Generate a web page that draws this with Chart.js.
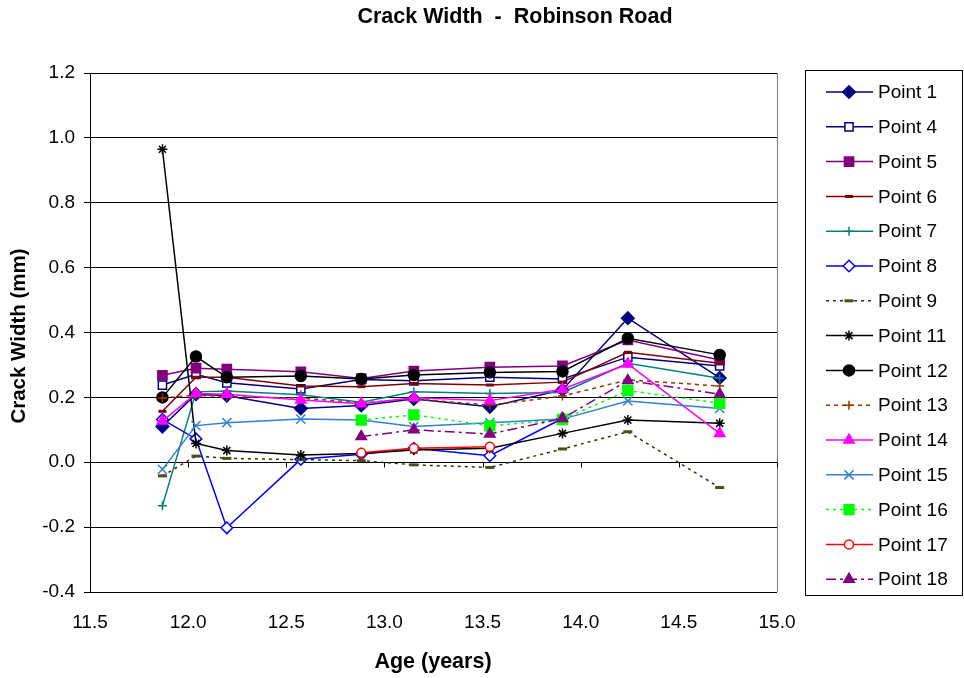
<!DOCTYPE html>
<html>
<head>
<meta charset="utf-8">
<script src="https://cdn.jsdelivr.net/npm/chart.js@4/dist/chart.umd.min.js"></script>
<style>
  html, body { margin: 0; padding: 0; background: #fff; }
  #wrap { width: 964px; height: 678px; }
</style>
</head>
<body>
<div id="wrap"><canvas id="crackChart" width="964" height="678"></canvas></div>
<script>
// ---- data ----
const ages = [11.869, 12.04, 12.197, 12.574, 12.882, 13.15, 13.537, 13.907, 14.24, 14.708];

const seriesNames = ['Point 1', 'Point 4', 'Point 5', 'Point 6', 'Point 7', 'Point 8', 'Point 9', 'Point 11',
  'Point 12', 'Point 13', 'Point 14', 'Point 15', 'Point 16', 'Point 17', 'Point 18'];

const point1  = [0.110, 0.210, 0.205, 0.166, 0.175, 0.195, 0.171, 0.223, 0.444, 0.260];
const point4  = [0.238, 0.271, 0.245, 0.226, 0.255, 0.251, 0.262, 0.257, 0.324, 0.297];
const point5  = [0.268, 0.290, 0.287, 0.279, 0.258, 0.281, 0.293, 0.297, 0.377, 0.315];
const point6  = [0.157, 0.262, 0.262, 0.235, 0.233, 0.243, 0.238, 0.247, 0.339, 0.305];
const point7  = [-0.134, 0.217, 0.220, 0.208, 0.185, 0.217, 0.212, 0.215, 0.305, 0.259];
const point8  = [0.132, 0.072, -0.202, 0.009, 0.025, 0.043, 0.020, 0.135, null, null];
const point9  = [-0.042, 0.019, 0.012, 0.008, 0.005, -0.008, -0.016, 0.041, 0.094, -0.078];
const point11 = [0.965, 0.058, 0.036, 0.022, 0.027, 0.038, 0.043, 0.089, 0.130, 0.120];
const point12 = [0.200, 0.326, 0.262, 0.266, 0.257, 0.269, 0.277, 0.280, 0.382, 0.331];
const point13 = [0.198, 0.207, 0.202, 0.198, 0.183, 0.195, 0.176, 0.204, 0.254, 0.235];
const point14 = [0.127, 0.212, 0.210, 0.192, 0.180, 0.199, 0.190, 0.225, 0.303, 0.089];
const point15 = [-0.022, 0.113, 0.122, 0.133, 0.130, 0.110, 0.122, 0.133, 0.189, 0.166];
const point16 = [null, null, null, null, 0.130, 0.146, 0.112, 0.132, 0.221, 0.182];
const point17 = [null, null, null, null, 0.029, 0.043, 0.048, null, null, null];
const point18 = [null, null, null, null, 0.079, 0.100, 0.087, 0.135, 0.252, 0.210];

const xTicks = [11.5, 12.0, 12.5, 13.0, 13.5, 14.0, 14.5, 15.0];
const yTicks = [-0.4, -0.2, 0.0, 0.2, 0.4, 0.6, 0.8, 1.0, 1.2];

const seriesValues = [point1, point4, point5, point6, point7, point8, point9, point11,
  point12, point13, point14, point15, point16, point17, point18];

// ---- styling (Excel-ish defaults) ----
const styles = [
  { c: '#000080', m: 'rectRot', r: 6.3, fill: true },
  { c: '#000080', m: 'rect', r: 5.8, fill: false },
  { c: '#800080', m: 'rect', r: 6.5, fill: true },
  { c: '#800000', m: 'line', r: 4, fill: true, mw: 3 },
  { c: '#008080', m: 'cross', r: 4.5, fill: false },
  { c: '#0000FF', m: 'rectRot', r: 5.8, fill: false },
  { c: '#333300', m: 'line', r: 4.5, fill: true, mw: 3, dash: [3, 4], mc: '#4d4d1a' },
  { c: '#000000', m: 'star', r: 5, fill: false },
  { c: '#000000', m: 'circle', r: 5.5, fill: true },
  { c: '#993300', m: 'cross', r: 4.5, fill: false, dash: [4, 4] },
  { c: '#FF00FF', m: 'triangle', r: 6, fill: true },
  { c: '#3380D0', m: 'crossRot', r: 6.5, fill: false },
  { c: '#00FF00', m: 'rect', r: 7, fill: true, dash: [3, 4] },
  { c: '#FF0000', m: 'circle', r: 4.5, fill: false },
  { c: '#800080', m: 'triangle', r: 6, fill: true, dash: [10, 4, 3, 4] }
];

const FONT = 'Arial, "Liberation Sans", sans-serif';

const datasets = seriesNames.map((name, i) => {
  const s = styles[i];
  const mc = s.mc || s.c;
  return {
    label: name,
    data: ages.map((a, k) => ({ x: a, y: seriesValues[i][k] })),
    borderColor: s.c,
    borderWidth: 1.5,
    borderDash: s.dash || [],
    pointStyle: s.m,
    pointRadius: s.r,
    pointBorderWidth: s.mw || 1.5,
    pointBorderColor: mc,
    pointBackgroundColor: s.fill ? mc : '#ffffff',
    tension: 0,
    fill: false,
    order: seriesNames.length - i
  };
});

// 标题、图例、边框都画在同一块 canvas 上
const decorPlugin = {
  id: 'decor',
  afterDraw(chart) {
    const ctx = chart.ctx;
    const area = chart.chartArea;
    const xs = chart.scales.x, ys = chart.scales.y;
    ctx.save();

    // plot area right border
    ctx.strokeStyle = '#808080';
    ctx.lineWidth = 1;
    ctx.beginPath();
    ctx.moveTo(Math.round(area.right) + 0.5, area.top);
    ctx.lineTo(Math.round(area.right) + 0.5, area.bottom);
    ctx.stroke();

    // x axis ticks at y = 0
    const y0 = Math.round(ys.getPixelForValue(0)) + 0.5;
    ctx.strokeStyle = '#000';
    ctx.beginPath();
    xTicks.forEach(t => {
      const px = Math.round(xs.getPixelForValue(t)) + 0.5;
      ctx.moveTo(px, y0);
      ctx.lineTo(px, y0 + 5);
    });
    ctx.stroke();

    // titles
    ctx.fillStyle = '#000';
    ctx.textAlign = 'center';
    ctx.textBaseline = 'middle';
    ctx.font = 'bold 21.5px ' + FONT;
    ctx.fillText('Crack Width  -  Robinson Road', 515, 17);
    ctx.fillText('Age (years)', 433, 662);
    ctx.save();
    ctx.translate(19, 336);
    ctx.rotate(-Math.PI / 2);
    ctx.font = 'bold 20.5px ' + FONT;
    ctx.fillText('Crack Width (mm)', 0, 0);
    ctx.restore();

    // legend box
    ctx.strokeStyle = '#000';
    ctx.lineWidth = 1;
    ctx.strokeRect(805.5, 70.5, 157, 525);
    ctx.font = '19px ' + FONT;
    ctx.textAlign = 'left';
    datasets.forEach((ds, i) => {
      const cy = 92 + i * 34.8;
      ctx.strokeStyle = ds.borderColor;
      ctx.lineWidth = 1.5;
      ctx.setLineDash(ds.borderDash);
      ctx.beginPath();
      ctx.moveTo(826, cy);
      ctx.lineTo(873, cy);
      ctx.stroke();
      ctx.setLineDash([]);
      ctx.strokeStyle = ds.pointBorderColor;
      ctx.fillStyle = ds.pointBackgroundColor;
      ctx.lineWidth = ds.pointBorderWidth;
      Chart.helpers.drawPoint(ctx, {
        pointStyle: ds.pointStyle, radius: ds.pointRadius, rotation: 0,
        borderWidth: ds.pointBorderWidth
      }, 849, cy);
      ctx.fillStyle = '#000';
      ctx.fillText(ds.label, 878, cy + 1);
    });
    ctx.restore();
  }
};

new Chart(document.getElementById('crackChart'), {
  type: 'line',
  data: { datasets },
  options: {
    responsive: false,
    animation: false,
    layout: { padding: { left: 0, top: 73, right: 187, bottom: 0 } },
    plugins: { legend: { display: false }, title: { display: false }, tooltip: { enabled: false } },
    scales: {
      x: {
        type: 'linear',
        min: 11.5, max: 15,
        afterBuildTicks: s => { s.ticks = xTicks.map(v => ({ value: v })); },
        afterFit: s => { s.height = 86; },
        grid: { display: false, drawTicks: false },
        border: { display: false },
        ticks: { padding: 19, color: '#000', font: { family: FONT, size: 19 }, callback: v => v.toFixed(1) }
      },
      y: {
        min: -0.4, max: 1.2,
        afterBuildTicks: s => { s.ticks = yTicks.map(v => ({ value: v })); },
        afterFit: s => { s.width = 90; },
        grid: { color: '#000', lineWidth: 1, tickLength: 6, drawTicks: true },
        border: { display: true, color: '#000', width: 1 },
        ticks: { padding: 9, color: '#000', font: { family: FONT, size: 19 }, callback: v => v.toFixed(1) }
      }
    }
  },
  plugins: [decorPlugin]
});
</script>
</body>
</html>
